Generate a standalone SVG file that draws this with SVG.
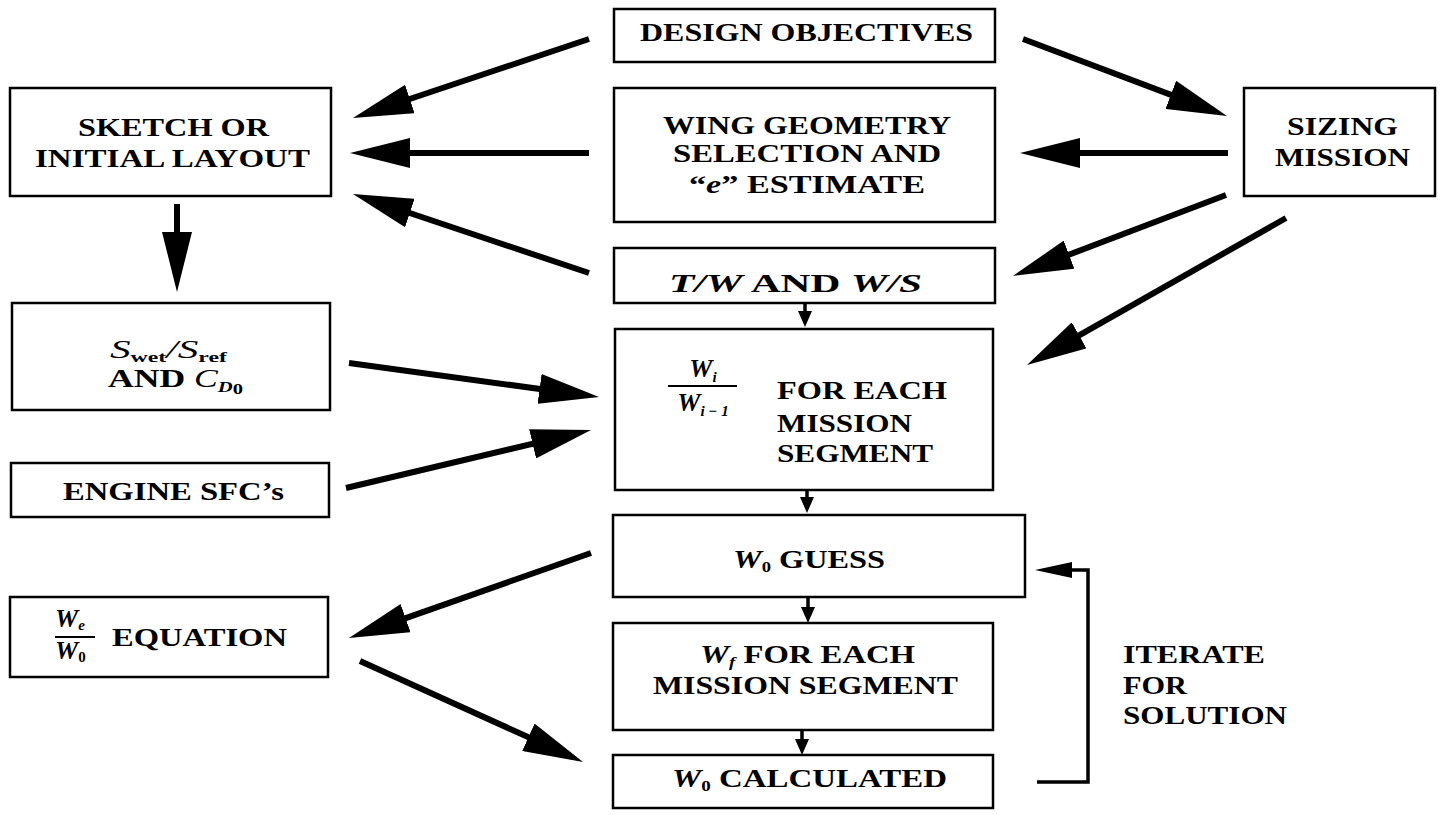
<svg xmlns="http://www.w3.org/2000/svg" width="1441" height="815" viewBox="0 0 1441 815">
<style>
.t{font-family:"Liberation Serif","Times New Roman",serif;font-weight:bold;font-size:26px;fill:#000}
.i{font-style:italic}
.s{font-size:15px}
.box{fill:#fff;stroke:#000;stroke-width:2.5}
.thick{stroke:#000;stroke-width:6;fill:none}
.thin{stroke:#000;stroke-width:3.5;fill:none}
</style>
<defs>
<marker id="big" markerUnits="userSpaceOnUse" markerWidth="60" markerHeight="30" refX="30" refY="15" orient="auto" viewBox="0 0 60 30"><path d="M0,0 L60,15 L0,30 z" fill="#000"/></marker>
<marker id="small" markerUnits="userSpaceOnUse" markerWidth="16" markerHeight="14" refX="10" refY="7" orient="auto" viewBox="0 0 16 14"><path d="M0,0 L16,7 L0,14 z" fill="#000"/></marker>
</defs>
<rect width="1441" height="815" fill="#fff"/>

<g id="connectors">
<path class="thick" d="M589,39 L381.4,108.5" marker-end="url(#big)"/>
<path class="thick" d="M589,153 L380,153" marker-end="url(#big)"/>
<path class="thick" d="M589,273 L381.4,203.5" marker-end="url(#big)"/>
<path class="thick" d="M177,204 L177,262" marker-end="url(#big)"/>
<path class="thick" d="M1023,39 L1198.9,105.4" marker-end="url(#big)"/>
<path class="thick" d="M1228,153 L1050,153" marker-end="url(#big)"/>
<path class="thick" d="M1226,195 L1041,265.3" marker-end="url(#big)"/>
<path class="thick" d="M1286,218 L1053.1,350.2" marker-end="url(#big)"/>
<path class="thick" d="M349,363 L569.3,393" marker-end="url(#big)"/>
<path class="thick" d="M346,488 L561.8,436.9" marker-end="url(#big)"/>
<path class="thick" d="M591,553 L377.3,628.1" marker-end="url(#big)"/>
<path class="thick" d="M360,661 L555.7,749.6" marker-end="url(#big)"/>
<path class="thin" d="M805,303 L805,321" marker-end="url(#small)"/>
<path class="thin" d="M807,490 L807,507" marker-end="url(#small)"/>
<path class="thin" d="M808,597 L808,617" marker-end="url(#small)"/>
<path class="thin" d="M802,730 L802,749" marker-end="url(#small)"/>
<path class="thin" d="M1037,782 H1088 V570 H1068"/>
<path d="M1035,570 L1072,562 L1072,578 z" fill="#000"/>
</g>

<g id="design-objectives">
<rect class="box" x="614" y="9" width="381" height="53"/>
<text class="t" x="640" y="41" textLength="333" lengthAdjust="spacingAndGlyphs">DESIGN OBJECTIVES</text>
</g>

<g id="sketch">
<rect class="box" x="10" y="88" width="321" height="108"/>
<text class="t" x="78" y="136" textLength="191" lengthAdjust="spacingAndGlyphs">SKETCH OR</text>
<text class="t" x="35" y="167" textLength="275" lengthAdjust="spacingAndGlyphs">INITIAL LAYOUT</text>
</g>

<g id="wing-geometry">
<rect class="box" x="614" y="88" width="381" height="134"/>
<text class="t" x="663" y="134" textLength="288" lengthAdjust="spacingAndGlyphs">WING GEOMETRY</text>
<text class="t" x="673" y="162" textLength="268" lengthAdjust="spacingAndGlyphs">SELECTION AND</text>
<text class="t" x="689" y="193" textLength="236" lengthAdjust="spacingAndGlyphs">“<tspan class="i">e</tspan>” ESTIMATE</text>
</g>

<g id="sizing-mission">
<rect class="box" x="1244" y="88" width="191" height="108"/>
<text class="t" x="1287" y="135" textLength="111" lengthAdjust="spacingAndGlyphs">SIZING</text>
<text class="t" x="1275" y="166" textLength="135" lengthAdjust="spacingAndGlyphs">MISSION</text>
</g>

<g id="tw-ws">
<rect class="box" x="614" y="248" width="381" height="55"/>
<text class="t" x="669" y="292" textLength="253" lengthAdjust="spacingAndGlyphs"><tspan class="i">T/W</tspan> AND <tspan class="i">W/S</tspan></text>
</g>

<g id="swet-sref">
<rect class="box" x="12" y="303" width="318" height="107"/>
<text class="t" x="110" y="358" textLength="117" lengthAdjust="spacingAndGlyphs"><tspan class="i" font-weight="normal">S</tspan><tspan class="s" dy="4">wet</tspan><tspan dy="-4" class="i" font-weight="normal">/S</tspan><tspan class="s" dy="4">ref</tspan></text>
<text class="t" x="108" y="387" textLength="135" lengthAdjust="spacingAndGlyphs">AND <tspan class="i" font-weight="normal">C</tspan><tspan class="s i" dy="5">D</tspan><tspan class="s" font-size="12" dy="2">0</tspan></text>
</g>

<g id="mission-segment-ratio">
<rect class="box" x="615" y="329" width="378" height="161"/>
<text class="t" x="703" y="377" text-anchor="middle"><tspan class="i">W</tspan><tspan class="s i" dy="5">i</tspan></text>
<line x1="668" y1="386" x2="737" y2="386" stroke="#000" stroke-width="2"/>
<text class="t" x="703" y="411" text-anchor="middle"><tspan class="i">W</tspan><tspan class="s i" dy="5">i − 1</tspan></text>
<text class="t" x="777" y="399" textLength="170" lengthAdjust="spacingAndGlyphs">FOR EACH</text>
<text class="t" x="777" y="432" textLength="135" lengthAdjust="spacingAndGlyphs">MISSION</text>
<text class="t" x="777" y="462" textLength="156" lengthAdjust="spacingAndGlyphs">SEGMENT</text>
</g>

<g id="engine-sfc">
<rect class="box" x="11" y="463" width="318" height="54"/>
<text class="t" x="63" y="500" textLength="221" lengthAdjust="spacingAndGlyphs">ENGINE SFC’s</text>
</g>

<g id="w0-guess">
<rect class="box" x="613" y="515" width="412" height="82"/>
<text class="t" x="733" y="568" textLength="152" lengthAdjust="spacingAndGlyphs"><tspan class="i">W</tspan><tspan class="s" dy="4">0</tspan><tspan dy="-4"> GUESS</tspan></text>
</g>

<g id="we-equation">
<rect class="box" x="10" y="597" width="318" height="80"/>
<text class="t" x="55" y="627" font-size="20"><tspan class="i">W</tspan><tspan class="s i" font-size="12" dy="3">e</tspan></text>
<line x1="55" y1="637" x2="95" y2="637" stroke="#000" stroke-width="2"/>
<text class="t" x="55" y="659" font-size="20"><tspan class="i">W</tspan><tspan class="s" font-size="12" dy="3">0</tspan></text>
<text class="t" x="112" y="646" textLength="175" lengthAdjust="spacingAndGlyphs">EQUATION</text>
</g>

<g id="wf-segment">
<rect class="box" x="613" y="623" width="380" height="107"/>
<text class="t" x="700" y="663" textLength="215" lengthAdjust="spacingAndGlyphs"><tspan class="i">W</tspan><tspan class="s i" dy="4">f</tspan><tspan dy="-4"> FOR EACH</tspan></text>
<text class="t" x="653" y="694" textLength="305" lengthAdjust="spacingAndGlyphs">MISSION SEGMENT</text>
</g>

<g id="w0-calculated">
<rect class="box" x="613" y="755" width="380" height="53"/>
<text class="t" x="672" y="787" textLength="275" lengthAdjust="spacingAndGlyphs"><tspan class="i">W</tspan><tspan class="s" dy="4">0</tspan><tspan dy="-4"> CALCULATED</tspan></text>
</g>

<g id="iterate-label">
<text class="t" x="1123" y="663" textLength="142" lengthAdjust="spacingAndGlyphs">ITERATE</text>
<text class="t" x="1123" y="694" textLength="64" lengthAdjust="spacingAndGlyphs">FOR</text>
<text class="t" x="1123" y="724" textLength="164" lengthAdjust="spacingAndGlyphs">SOLUTION</text>
</g>
</svg>
